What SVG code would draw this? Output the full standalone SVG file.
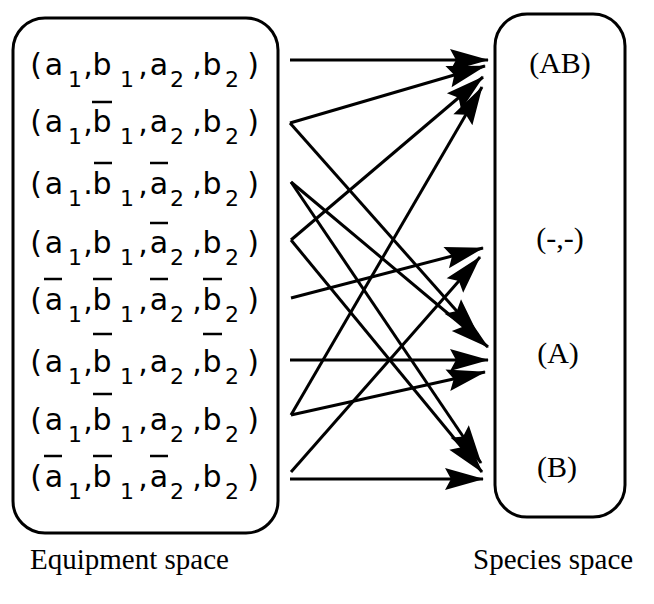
<svg xmlns="http://www.w3.org/2000/svg" width="654" height="604" viewBox="0 0 654 604">
<defs>
<style>
.box{fill:none;stroke:#000;stroke-width:3}
.eq{font-family:"DejaVu Sans",sans-serif;fill:#000;text-anchor:middle}
.m{font-size:30px}
.s{font-size:22px}
.bar{stroke:#000;stroke-width:2.5}
.sp{font-family:"Liberation Serif",serif;font-size:30px;fill:#000;text-anchor:middle}
.cap{font-family:"Liberation Serif",serif;font-size:29px;fill:#000}
.con path{fill:none;stroke:#000;stroke-width:3;marker-end:url(#ah)}
</style>
<marker id="ah" viewBox="-40 -13 42 26" refX="0" refY="0" markerWidth="42" markerHeight="26" orient="auto" markerUnits="userSpaceOnUse">
<path d="M1,0 L-38,-11 L-32,0 L-38,11 Z" fill="#000"/>
</marker>
</defs>
<rect width="654" height="604" fill="#fff"/>

<g id="equipment-space">
<rect class="box" x="13" y="18" width="265" height="515" rx="32"/>
</g>

<g id="row1">
<text class="eq"><tspan class="m" x="36" y="75">(</tspan><tspan class="m" x="54" y="75">a</tspan><tspan class="s" x="75" y="87">1</tspan><tspan class="m" x="88" y="75">,</tspan><tspan class="m" x="102" y="75">b</tspan><tspan class="s" x="127" y="87">1</tspan><tspan class="m" x="143" y="75">,</tspan><tspan class="m" x="159" y="75">a</tspan><tspan class="s" x="177" y="87">2</tspan><tspan class="m" x="197" y="75">,</tspan><tspan class="m" x="212" y="75">b</tspan><tspan class="s" x="232" y="87">2</tspan><tspan class="m" x="253" y="75">)</tspan></text>
</g>
<g id="row2">
<text class="eq"><tspan class="m" x="36" y="132">(</tspan><tspan class="m" x="54" y="132">a</tspan><tspan class="s" x="75" y="144">1</tspan><tspan class="m" x="88" y="132">,</tspan><tspan class="m" x="102" y="132">b</tspan><tspan class="s" x="127" y="144">1</tspan><tspan class="m" x="143" y="132">,</tspan><tspan class="m" x="159" y="132">a</tspan><tspan class="s" x="177" y="144">2</tspan><tspan class="m" x="197" y="132">,</tspan><tspan class="m" x="212" y="132">b</tspan><tspan class="s" x="232" y="144">2</tspan><tspan class="m" x="253" y="132">)</tspan></text>
<line class="bar" x1="92" y1="102" x2="112" y2="102"/>
</g>
<g id="row3">
<text class="eq"><tspan class="m" x="36" y="194">(</tspan><tspan class="m" x="54" y="194">a</tspan><tspan class="s" x="75" y="206">1</tspan><tspan class="m" x="88" y="194">.</tspan><tspan class="m" x="102" y="194">b</tspan><tspan class="s" x="127" y="206">1</tspan><tspan class="m" x="143" y="194">,</tspan><tspan class="m" x="159" y="194">a</tspan><tspan class="s" x="177" y="206">2</tspan><tspan class="m" x="197" y="194">,</tspan><tspan class="m" x="212" y="194">b</tspan><tspan class="s" x="232" y="206">2</tspan><tspan class="m" x="253" y="194">)</tspan></text>
<line class="bar" x1="94" y1="163" x2="112" y2="163"/>
<line class="bar" x1="150" y1="163" x2="168" y2="163"/>
</g>
<g id="row4">
<text class="eq"><tspan class="m" x="36" y="253">(</tspan><tspan class="m" x="54" y="253">a</tspan><tspan class="s" x="75" y="265">1</tspan><tspan class="m" x="88" y="253">,</tspan><tspan class="m" x="102" y="253">b</tspan><tspan class="s" x="127" y="265">1</tspan><tspan class="m" x="143" y="253">,</tspan><tspan class="m" x="159" y="253">a</tspan><tspan class="s" x="177" y="265">2</tspan><tspan class="m" x="197" y="253">,</tspan><tspan class="m" x="212" y="253">b</tspan><tspan class="s" x="232" y="265">2</tspan><tspan class="m" x="253" y="253">)</tspan></text>
<line class="bar" x1="150" y1="223" x2="168" y2="223"/>
</g>
<g id="row5">
<text class="eq"><tspan class="m" x="36" y="310">(</tspan><tspan class="m" x="54" y="310">a</tspan><tspan class="s" x="75" y="322">1</tspan><tspan class="m" x="88" y="310">,</tspan><tspan class="m" x="102" y="310">b</tspan><tspan class="s" x="127" y="322">1</tspan><tspan class="m" x="143" y="310">,</tspan><tspan class="m" x="159" y="310">a</tspan><tspan class="s" x="177" y="322">2</tspan><tspan class="m" x="197" y="310">,</tspan><tspan class="m" x="212" y="310">b</tspan><tspan class="s" x="232" y="322">2</tspan><tspan class="m" x="253" y="310">)</tspan></text>
<line class="bar" x1="44" y1="279" x2="62" y2="279"/>
<line class="bar" x1="93" y1="279" x2="112" y2="279"/>
<line class="bar" x1="150" y1="279" x2="168" y2="279"/>
<line class="bar" x1="203" y1="279" x2="222" y2="279"/>
</g>
<g id="row6">
<text class="eq"><tspan class="m" x="36" y="372">(</tspan><tspan class="m" x="54" y="372">a</tspan><tspan class="s" x="75" y="384">1</tspan><tspan class="m" x="88" y="372">,</tspan><tspan class="m" x="102" y="372">b</tspan><tspan class="s" x="127" y="384">1</tspan><tspan class="m" x="143" y="372">,</tspan><tspan class="m" x="159" y="372">a</tspan><tspan class="s" x="177" y="384">2</tspan><tspan class="m" x="197" y="372">,</tspan><tspan class="m" x="212" y="372">b</tspan><tspan class="s" x="232" y="384">2</tspan><tspan class="m" x="253" y="372">)</tspan></text>
<line class="bar" x1="93" y1="334" x2="112" y2="334"/>
<line class="bar" x1="203" y1="334" x2="222" y2="334"/>
</g>
<g id="row7">
<text class="eq"><tspan class="m" x="36" y="430">(</tspan><tspan class="m" x="54" y="430">a</tspan><tspan class="s" x="75" y="442">1</tspan><tspan class="m" x="88" y="430">,</tspan><tspan class="m" x="102" y="430">b</tspan><tspan class="s" x="127" y="442">1</tspan><tspan class="m" x="143" y="430">,</tspan><tspan class="m" x="159" y="430">a</tspan><tspan class="s" x="177" y="442">2</tspan><tspan class="m" x="197" y="430">,</tspan><tspan class="m" x="212" y="430">b</tspan><tspan class="s" x="232" y="442">2</tspan><tspan class="m" x="253" y="430">)</tspan></text>
<line class="bar" x1="93" y1="394" x2="112" y2="394"/>
</g>
<g id="row8">
<text class="eq"><tspan class="m" x="36" y="487">(</tspan><tspan class="m" x="54" y="487">a</tspan><tspan class="s" x="75" y="499">1</tspan><tspan class="m" x="88" y="487">,</tspan><tspan class="m" x="102" y="487">b</tspan><tspan class="s" x="127" y="499">1</tspan><tspan class="m" x="143" y="487">,</tspan><tspan class="m" x="159" y="487">a</tspan><tspan class="s" x="177" y="499">2</tspan><tspan class="m" x="197" y="487">,</tspan><tspan class="m" x="212" y="487">b</tspan><tspan class="s" x="232" y="499">2</tspan><tspan class="m" x="253" y="487">)</tspan></text>
<line class="bar" x1="44" y1="456" x2="62" y2="456"/>
<line class="bar" x1="93" y1="456" x2="112" y2="456"/>
<line class="bar" x1="150" y1="456" x2="168" y2="456"/>
</g>

<g id="species-space">
<rect class="box" x="495" y="14" width="130" height="503" rx="32"/>
</g>
<g id="sp-AB"><text class="sp" x="560" y="73">(AB)</text></g>
<g id="sp-none"><text class="sp" x="560" y="248">(-,-)</text></g>
<g id="sp-A"><text class="sp" x="558" y="363">(A)</text></g>
<g id="sp-B"><text class="sp" x="557" y="477">(B)</text></g>

<g id="connectors" class="con">
<path d="M290,60 L488,60"/>
<path d="M290,123 L485,66"/>
<path d="M290,123 L478,335"/>
<path d="M291,182 L488,347"/>
<path d="M291,182 L481,463"/>
<path d="M291,240 L483,77"/>
<path d="M291,240 L482,472"/>
<path d="M291,298 L483,248"/>
<path d="M290,360 L488,360"/>
<path d="M291,415 L485,372"/>
<path d="M291,415 L482,87"/>
<path d="M291,472 L480,257"/>
<path d="M290,479 L483,479"/>
</g>

<g id="captions">
<text class="cap" x="30" y="569">Equipment space</text>
<text class="cap" x="473" y="569">Species space</text>
</g>
</svg>
